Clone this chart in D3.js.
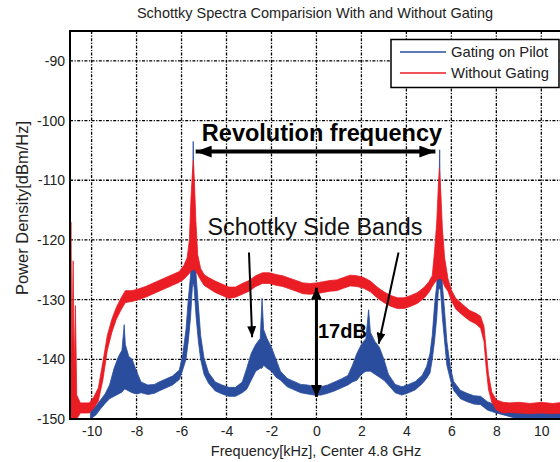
<!DOCTYPE html>
<html><head><meta charset="utf-8">
<script src="https://cdn.jsdelivr.net/npm/d3@7"></script>
<style>
body{margin:0;background:#fff;}
text{font-family:"Liberation Sans",Arial,sans-serif;}
</style></head>
<body><svg id="c" width="560" height="462"></svg>
<script>
// ---- data ----
const xTicks = [-10,-8,-6,-4,-2,0,2,4,6,8,10];
const yTicks = [-150,-140,-130,-120,-110,-100,-90];
const seriesNames = ["Gating on Pilot","Without Gating"];

// Gating on Pilot (blue): frequency [kHz], upper and lower envelope [dBm/Hz]
const blueF  = [-10.05,-9.8,-9.6,-9.4,-9.2,-9.0,-8.8,-8.65,-8.55,-8.5,-8.35,-8.2,-8.0,-7.8,-7.5,-7.2,-7.0,-6.7,-6.4,-6.1,-5.95,-5.8,-5.7,-5.6,-5.52,-5.48,-5.44,-5.35,-5.25,-5.15,-5.0,-4.8,-4.5,-4.2,-3.9,-3.6,-3.3,-3.1,-2.9,-2.7,-2.5,-2.42,-2.35,-2.2,-2.0,-1.8,-1.6,-1.3,-1.0,-0.7,-0.4,-0.1,0.2,0.5,0.8,1.1,1.4,1.6,1.8,2.0,2.2,2.32,2.4,2.6,2.8,3.0,3.2,3.5,3.8,4.1,4.4,4.7,4.9,5.05,5.15,5.25,5.35,5.42,5.48,5.52,5.6,5.7,5.8,5.95,6.1,6.4,6.7,7.0,7.3,7.6,8.0,8.5,9.0,9.5,10.0,10.5,11.0];
const blueHi = [-148.8,-147.8,-146.8,-145.8,-144.3,-141.5,-139.5,-138.5,-134.2,-137.5,-139.5,-140.0,-142.0,-143.8,-144.3,-144.2,-143.8,-143.3,-142.8,-141.8,-139.3,-135.0,-130.0,-126.0,-118.0,-103.5,-118.0,-126.0,-131.0,-136.0,-139.8,-142.2,-143.8,-144.3,-144.7,-144.7,-143.8,-141.5,-139.0,-137.5,-136.5,-129.8,-135.0,-136.5,-138.0,-140.0,-142.0,-143.2,-143.7,-144.2,-144.3,-144.6,-144.6,-144.3,-143.8,-143.3,-142.7,-141.0,-139.0,-137.5,-136.5,-131.7,-135.5,-137.0,-138.0,-140.0,-142.5,-144.2,-144.6,-144.2,-143.7,-142.7,-141.2,-139.0,-136.0,-131.0,-127.5,-120.0,-104.9,-120.0,-127.5,-132.0,-137.0,-141.2,-143.7,-145.2,-145.7,-146.1,-146.2,-147.1,-147.7,-148.2,-148.6,-148.6,-148.7,-148.6,-148.7];
const blueLo = [-150.0,-149.3,-148.3,-147.4,-146.6,-146.2,-145.8,-145.5,-145.0,-145.0,-145.3,-145.6,-145.8,-145.6,-145.9,-145.7,-145.3,-144.8,-144.3,-143.4,-141.8,-140.0,-137.0,-133.0,-128.0,-127.0,-128.0,-133.0,-137.0,-140.0,-142.5,-144.0,-145.3,-145.8,-146.2,-146.2,-145.6,-145.0,-143.5,-142.0,-141.5,-141.5,-141.0,-141.5,-142.0,-143.0,-143.5,-144.6,-145.1,-145.6,-145.8,-146.0,-146.0,-145.7,-145.3,-144.8,-144.3,-143.8,-143.5,-142.5,-142.0,-142.0,-142.0,-142.5,-143.0,-143.5,-144.3,-145.6,-146.0,-145.6,-145.1,-144.1,-143.2,-142.3,-140.0,-137.0,-133.0,-128.5,-128.0,-128.5,-133.0,-137.0,-141.0,-143.3,-145.2,-146.6,-147.1,-147.5,-147.6,-148.5,-149.0,-149.5,-150.0,-150.0,-150.0,-150.0,-150.0];

// Without Gating (red)
const redF  = [-10.95,-10.92,-10.88,-10.82,-10.77,-10.72,-10.66,-10.5,-10.3,-10.1,-9.9,-9.7,-9.5,-9.3,-9.1,-8.9,-8.7,-8.5,-8.2,-7.9,-7.6,-7.3,-7.0,-6.7,-6.4,-6.1,-5.9,-5.75,-5.65,-5.58,-5.52,-5.47,-5.42,-5.36,-5.28,-5.15,-5.0,-4.8,-4.5,-4.2,-3.9,-3.6,-3.3,-3.0,-2.7,-2.4,-2.1,-1.8,-1.5,-1.2,-0.9,-0.6,-0.3,0.0,0.3,0.6,0.9,1.2,1.5,1.8,2.1,2.4,2.7,3.0,3.3,3.6,3.9,4.2,4.5,4.8,5.0,5.15,5.25,5.35,5.42,5.47,5.53,5.6,5.7,5.85,6.0,6.2,6.5,6.8,7.1,7.3,7.45,7.55,7.65,7.8,8.0,8.3,8.6,9.0,9.5,10.0,10.5,11.0];
const redHi = [-150.0,-117.0,-140.0,-123.5,-142.0,-131.0,-146.0,-147.3,-147.3,-147.3,-146.3,-144.8,-140.5,-136.0,-133.3,-131.3,-129.8,-128.5,-128.5,-128.2,-127.8,-127.3,-126.8,-126.3,-125.8,-125.3,-124.3,-123.0,-120.0,-113.0,-109.0,-106.6,-111.0,-117.0,-122.5,-124.8,-125.8,-126.3,-126.9,-127.4,-127.9,-127.9,-127.3,-126.8,-126.0,-125.5,-125.5,-125.8,-126.0,-126.4,-126.8,-127.2,-127.3,-127.2,-127.0,-126.8,-126.7,-126.3,-125.9,-126.0,-126.3,-126.9,-127.9,-128.7,-129.3,-129.7,-129.7,-129.3,-128.8,-127.9,-127.0,-126.0,-122.0,-117.0,-111.0,-108.0,-112.0,-118.0,-123.0,-126.5,-128.4,-129.8,-130.8,-131.8,-132.3,-132.8,-134.5,-138.5,-142.5,-145.5,-146.8,-147.2,-147.3,-147.2,-147.4,-147.2,-147.4,-147.2];
const redLo = [-150.0,-150.0,-150.0,-150.0,-150.0,-150.0,-150.0,-149.0,-149.0,-149.0,-148.2,-147.0,-143.5,-138.5,-135.5,-133.3,-131.8,-130.5,-130.3,-130.0,-129.6,-129.1,-128.6,-128.1,-127.6,-127.1,-126.6,-126.0,-125.6,-125.2,-125.0,-125.0,-125.0,-125.3,-125.8,-126.7,-127.6,-128.1,-128.8,-129.3,-129.8,-129.6,-129.1,-128.6,-127.8,-127.3,-127.3,-127.6,-127.8,-128.2,-128.6,-129.0,-129.1,-129.0,-128.8,-128.6,-128.5,-128.1,-127.7,-127.8,-128.1,-128.7,-129.7,-130.5,-131.1,-131.5,-131.5,-131.1,-130.6,-129.7,-128.8,-127.8,-127.2,-126.8,-126.5,-126.5,-126.5,-126.8,-127.8,-128.6,-130.2,-131.6,-132.6,-133.5,-134.1,-134.8,-137.0,-141.5,-145.0,-147.2,-148.5,-149.0,-148.9,-149.0,-149.1,-149.0,-149.1,-149.0];

// annotations (data coordinates)
const revArrow = {f0:-5.46, f1:5.29, v:-105.2};
const dbArrow  = {f:0, v0:-128.0, v1:-146.3};
const sideArrows = [{f0:-3.0, v0:-122.1, f1:-2.86, v1:-136.3},{f0:3.65, v0:-122.1, f1:2.77, v1:-137.4}];

// ---- chart ----
const svg = d3.select("#c");
const L=70, T=31, B=419, R=562;
const x = d3.scaleLinear().domain([-10.96,10.92]).range([L,R]);
const y = d3.scaleLinear().domain([-150,-85]).range([B,T]);
const blue="#2a4d9e", red="#ea1c24";
const fmt = d => String(d);

svg.append("defs").append("clipPath").attr("id","clip")
  .append("rect").attr("x",L).attr("y",T).attr("width",R-L).attr("height",B-T);

// title
svg.append("text").attr("x",315).attr("y",18).attr("text-anchor","middle")
  .attr("font-size",14.5).attr("fill","#222").text("Schottky Spectra Comparision With and Without Gating");

// grid
const grid = svg.append("g").attr("stroke","#000").attr("stroke-width",1.3).attr("stroke-dasharray","3,1.5,1.2,1.5");
xTicks.forEach(t=>grid.append("line").attr("x1",x(t)).attr("x2",x(t)).attr("y1",T).attr("y2",B));
yTicks.filter(t=>t>-150).forEach(t=>grid.append("line").attr("x1",L).attr("x2",R).attr("y1",y(t)).attr("y2",y(t)));

// series
const plot = svg.append("g").attr("clip-path","url(#clip)");
function band(F,Hi,Lo,col){
  const d = F.map((f,i)=>({f,hi:Hi[i],lo:Lo[i]}));
  plot.append("path").datum(d)
    .attr("d", d3.area().x(p=>x(p.f)).y0(p=>y(p.lo)).y1(p=>y(p.hi)))
    .attr("fill",col).attr("stroke",col).attr("stroke-width",0.8).attr("stroke-linejoin","round");
}
band(blueF,blueHi,blueLo,blue);
band(redF,redHi,redLo,red);

// axes
const xAxis = d3.axisBottom(x).tickValues(xTicks).tickFormat(fmt).tickSize(0).tickPadding(7);
const yAxis = d3.axisLeft(y).tickValues(yTicks).tickFormat(fmt).tickSize(0).tickPadding(5);
const gx = svg.append("g").attr("transform",`translate(0,${B})`).call(xAxis);
const gy = svg.append("g").attr("transform",`translate(${L},0)`).call(yAxis);
[gx,gy].forEach(g=>{g.select(".domain").remove(); g.selectAll("text").attr("font-size",14).attr("fill","#222").attr("font-family","Liberation Sans, Arial, sans-serif");});
// frame lines
svg.append("line").attr("x1",L).attr("x2",L).attr("y1",T).attr("y2",B+1).attr("stroke","#000").attr("stroke-width",2);
svg.append("line").attr("x1",L-1).attr("x2",R).attr("y1",B).attr("y2",B).attr("stroke","#000").attr("stroke-width",2);
svg.append("line").attr("x1",L-1).attr("x2",R).attr("y1",T).attr("y2",T).attr("stroke","#000").attr("stroke-width",2);

// axis labels
svg.append("text").attr("x",316).attr("y",456).attr("text-anchor","middle").attr("font-size",14.5).attr("fill","#222")
  .text("Frequency[kHz], Center 4.8 GHz");
svg.append("text").attr("transform","translate(28,208) rotate(-90)").attr("text-anchor","middle").attr("font-size",16.5).attr("fill","#222")
  .text("Power Density[dBm/Hz]");

// legend
const lg = svg.append("g");
lg.append("rect").attr("x",391).attr("y",39.5).attr("width",168).attr("height",48).attr("fill","#fff").attr("stroke","#000").attr("stroke-width",1.5);
[[blue,52,seriesNames[0]],[red,73,seriesNames[1]]].forEach(([c,yy,t])=>{
  lg.append("line").attr("x1",400).attr("x2",446).attr("y1",yy).attr("y2",yy).attr("stroke",c).attr("stroke-width",1.5);
  lg.append("text").attr("x",451).attr("y",yy+5).attr("font-size",14.8).attr("fill","#222").text(t);
});

// annotations
const defs = svg.select("defs");
function head(id,w,h){
  defs.append("marker").attr("id",id).attr("viewBox",`0 0 ${w} ${h}`).attr("refX",w).attr("refY",h/2)
    .attr("markerWidth",w).attr("markerHeight",h).attr("markerUnits","userSpaceOnUse").attr("orient","auto-start-reverse")
    .append("path").attr("d",`M0,0L${w},${h/2}L0,${h}Z`).attr("fill","#000");
}
head("hBig",16,12); head("hMid",12,11); head("hSm",11,9);
svg.append("line").attr("x1",x(revArrow.f0)+2).attr("x2",x(revArrow.f1)).attr("y1",y(revArrow.v)).attr("y2",y(revArrow.v))
  .attr("stroke","#000").attr("stroke-width",4).attr("marker-start","url(#hBig)").attr("marker-end","url(#hBig)");
svg.append("text").attr("x",322).attr("y",141).attr("text-anchor","middle").attr("font-size",23.5).attr("font-weight","bold").attr("fill","#000")
  .text("Revolution frequency");
svg.append("line").attr("x1",x(dbArrow.f)).attr("x2",x(dbArrow.f)).attr("y1",y(dbArrow.v0)).attr("y2",y(dbArrow.v1))
  .attr("stroke","#000").attr("stroke-width",3).attr("marker-start","url(#hMid)").attr("marker-end","url(#hMid)");
svg.append("text").attr("x",318).attr("y",338).attr("font-size",20).attr("font-weight","bold").attr("fill","#000").text("17dB");
sideArrows.forEach(a=>{
  svg.append("line").attr("x1",x(a.f0)).attr("y1",y(a.v0)).attr("x2",x(a.f1)).attr("y2",y(a.v1))
    .attr("stroke","#000").attr("stroke-width",2).attr("marker-end","url(#hSm)");
});
svg.append("text").attr("x",315).attr("y",235).attr("text-anchor","middle").attr("font-size",23.3).attr("fill","#111")
  .text("Schottky Side Bands");
</script></body></html>
